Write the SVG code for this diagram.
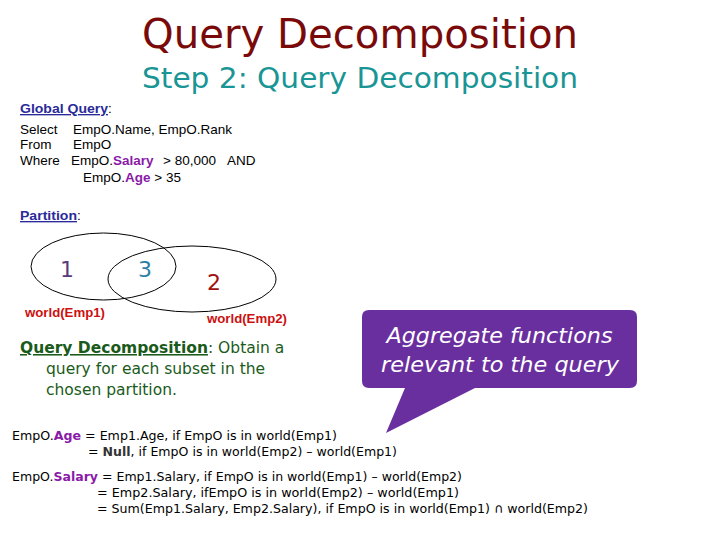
<svg xmlns="http://www.w3.org/2000/svg" width="720" height="540" viewBox="0 0 720 540">
<style>
.title{font-family:"DejaVu Sans",sans-serif;font-size:40px;fill:#7a0a0a}
.sub{font-family:"DejaVu Sans",sans-serif;font-size:29px;fill:#1a9595}
.q{font-family:"Liberation Sans",Arial,sans-serif;font-size:13.5px;fill:#000}
.hl{font-weight:bold;fill:#8a1aa8}
.hdr{font-family:"Liberation Sans",Arial,sans-serif;font-size:13.5px;font-weight:bold;fill:#2a2a9a;text-decoration:underline}
.num{font-family:"DejaVu Sans",sans-serif;font-size:22px}
.world{font-family:"Liberation Sans",Arial,sans-serif;font-size:12.5px;font-weight:bold;fill:#cc1010}
.qd{font-family:"DejaVu Sans",sans-serif;font-size:15.5px;fill:#1a5a1a}
.call{font-family:"DejaVu Sans",sans-serif;font-size:21px;font-style:italic;fill:#fff}
.f{font-family:"DejaVu Sans",sans-serif;font-size:13px;fill:#000}
.ell{fill:none;stroke:#000;stroke-width:1}
</style>
<rect width="720" height="540" fill="#fff"/>
<g id="title">
<text class="title" x="142" y="48" textLength="436" lengthAdjust="spacingAndGlyphs">Query Decomposition</text>
<text class="sub" x="142" y="88" textLength="436" lengthAdjust="spacingAndGlyphs">Step 2: Query Decomposition</text>
</g>
<g id="global-query">
<text class="hdr" x="20" y="113" textLength="88" lengthAdjust="spacingAndGlyphs">Global Query</text><text class="q" x="108" y="113">:</text>
<text class="q" x="20" y="134">Select</text><text class="q" x="73" y="134">EmpO.Name, EmpO.Rank</text>
<text class="q" x="20" y="149">From</text><text class="q" x="73" y="149">EmpO</text>
<text class="q" x="20" y="165">Where</text><text class="q" x="71" y="165">EmpO.<tspan class="hl">Salary</tspan></text><text class="q" x="163" y="165">&gt; 80,000</text><text class="q" x="227" y="165">AND</text>
<text class="q" x="83" y="182">EmpO.<tspan class="hl">Age</tspan> &gt; 35</text>
</g>
<g id="partition">
<text class="hdr" x="20" y="220" textLength="57" lengthAdjust="spacingAndGlyphs">Partition</text><text class="q" x="77" y="220">:</text>
<ellipse class="ell" cx="103.5" cy="266.5" rx="72.5" ry="33.5"/>
<ellipse class="ell" cx="192" cy="279" rx="84" ry="33"/>
<text class="num" x="67" y="277" text-anchor="middle" fill="#5a3a7a">1</text>
<text class="num" x="145" y="277" text-anchor="middle" fill="#2e7ea8">3</text>
<text class="num" x="214" y="290" text-anchor="middle" fill="#a01010">2</text>
<text class="world" x="25" y="317" textLength="80" lengthAdjust="spacingAndGlyphs">world(Emp1)</text>
<text class="world" x="207" y="323" textLength="80" lengthAdjust="spacingAndGlyphs">world(Emp2)</text>
</g>
<g id="query-decomposition">
<text class="qd" x="20" y="353"><tspan font-weight="bold" text-decoration="underline">Query Decomposition</tspan>:  Obtain a</text>
<text class="qd" x="46" y="374">query for each subset in the</text>
<text class="qd" x="46" y="395">chosen partition.</text>
</g>
<g id="callout">
<path d="M369,310 H630 Q637,310 637,317 V381 Q637,388 630,388 H475 L386,433 L405,388 H369 Q362,388 362,381 V317 Q362,310 369,310 Z" fill="#6a2f9e"/>
<text class="call" x="499.5" y="343" text-anchor="middle" textLength="226" lengthAdjust="spacingAndGlyphs">Aggregate functions</text>
<text class="call" x="500" y="372" text-anchor="middle" textLength="238" lengthAdjust="spacingAndGlyphs">relevant to the query</text>
</g>
<g id="formulas">
<text class="f" x="12" y="440" textLength="325" lengthAdjust="spacingAndGlyphs">EmpO.<tspan class="hl">Age</tspan> = Emp1.Age, if EmpO is in world(Emp1)</text>
<text class="f" x="88" y="456" textLength="309" lengthAdjust="spacingAndGlyphs">= <tspan font-weight="bold" fill="#333">Null</tspan>, if EmpO is in world(Emp2) – world(Emp1)</text>
<text class="f" x="12" y="481" textLength="450" lengthAdjust="spacingAndGlyphs">EmpO.<tspan class="hl">Salary</tspan> = Emp1.Salary, if EmpO is in world(Emp1) – world(Emp2)</text>
<text class="f" x="97" y="497" textLength="362" lengthAdjust="spacingAndGlyphs">= Emp2.Salary, ifEmpO is in world(Emp2) – world(Emp1)</text>
<text class="f" x="97" y="513" textLength="491" lengthAdjust="spacingAndGlyphs">= Sum(Emp1.Salary, Emp2.Salary), if EmpO is in world(Emp1) ∩ world(Emp2)</text>
</g>
</svg>
